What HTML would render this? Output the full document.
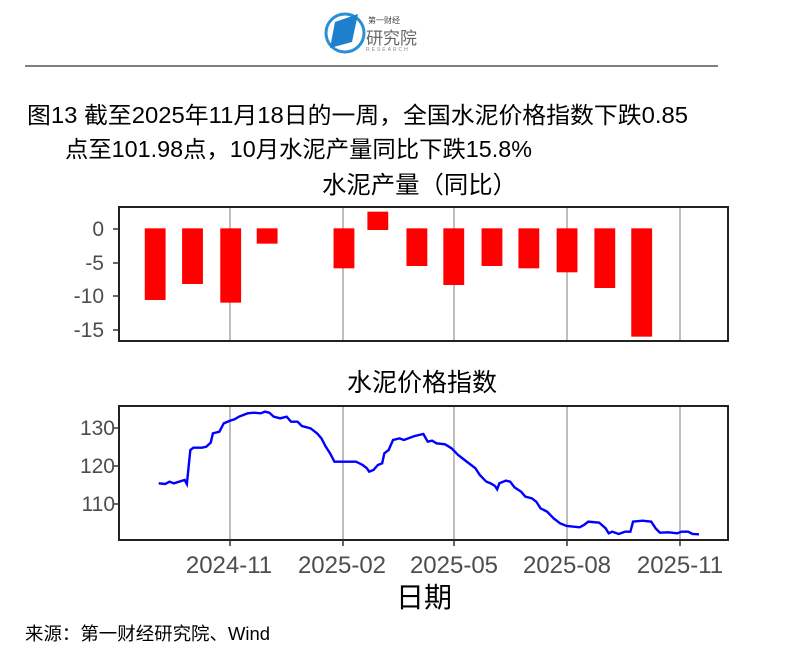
<!DOCTYPE html>
<html><head><meta charset="utf-8"><style>
body{margin:0;width:796px;height:665px;background:#fff;overflow:hidden;font-family:"Liberation Sans","Noto Sans CJK SC",sans-serif;}
</style></head><body>
<svg width="796" height="665" style="position:absolute;left:0;top:0" font-family="Liberation Sans, Noto Sans CJK SC, sans-serif">
<!-- logo -->
<circle cx="345" cy="33" r="19" fill="none" stroke="#2a8fd6" stroke-width="3"/>
<polygon points="335,22 358,14 352,42 330,48" fill="#1f7fcf"/>
<text x="368" y="23" font-size="8" fill="#444">第一财经</text>
<text x="366" y="44" font-size="17" fill="#666">研究院</text>
<text x="366" y="51" font-size="5" fill="#888" letter-spacing="2">RESEARCH</text>
<line x1="25" y1="66" x2="718" y2="66" stroke="#000" stroke-width="1"/>
<text x="27" y="123" font-size="23" textLength="661" lengthAdjust="spacingAndGlyphs">图13  截至2025年11月18日的一周，全国水泥价格指数下跌0.85</text>
<text x="65" y="157" font-size="23" textLength="467" lengthAdjust="spacingAndGlyphs">点至101.98点，10月水泥产量同比下跌15.8%</text>
<text x="322" y="193" font-size="24" textLength="195" lengthAdjust="spacingAndGlyphs">水泥产量（同比）</text>
<text x="347" y="391" font-size="25" textLength="150" lengthAdjust="spacingAndGlyphs">水泥价格指数</text>
<!-- top panel -->
<g stroke="#bebebe" stroke-width="2">
<line x1="230" y1="207" x2="230" y2="341"/><line x1="343" y1="207" x2="343" y2="341"/><line x1="454" y1="207" x2="454" y2="341"/><line x1="567" y1="207" x2="567" y2="341"/><line x1="680" y1="207" x2="680" y2="341"/>
</g>
<g fill="#ff0000" transform="translate(61,200) scale(0.434,0.3333)">
<rect x="193" y="85" width="48" height="215"/>
<rect x="279" y="85" width="48" height="167"/>
<rect x="367" y="85" width="48" height="223"/>
<rect x="451" y="85" width="48" height="46"/>
<rect x="628" y="85" width="48" height="120"/>
<rect x="706" y="35" width="48" height="55"/>
<rect x="796" y="85" width="48" height="113"/>
<rect x="881" y="85" width="48" height="170"/>
<rect x="969" y="85" width="48" height="113"/>
<rect x="1054" y="85" width="48" height="120"/>
<rect x="1142" y="85" width="48" height="132"/>
<rect x="1229" y="85" width="48" height="179"/>
<rect x="1314" y="85" width="48" height="325"/>
</g>
<rect x="119" y="207" width="609" height="134" fill="none" stroke="#222" stroke-width="2"/>
<g stroke="#333" stroke-width="1.5"><line x1="113" y1="229" x2="119" y2="229"/><line x1="113" y1="263" x2="119" y2="263"/><line x1="113" y1="296" x2="119" y2="296"/><line x1="113" y1="330" x2="119" y2="330"/></g>
<g font-size="21" fill="#4d4d4d" text-anchor="end"><text x="104" y="236">0</text><text x="104" y="270">-5</text><text x="104" y="303">-10</text><text x="104" y="337">-15</text></g>
<!-- bottom panel -->
<g stroke="#bebebe" stroke-width="2">
<line x1="230" y1="406" x2="230" y2="540"/><line x1="343" y1="406" x2="343" y2="540"/><line x1="454" y1="406" x2="454" y2="540"/><line x1="567" y1="406" x2="567" y2="540"/><line x1="680" y1="406" x2="680" y2="540"/>
</g>
<g transform="translate(61,400) scale(0.434,0.3333)">
<polyline fill="none" stroke="#0000ff" stroke-width="2.4" vector-effect="non-scaling-stroke" points="225,250 240,252 250,245 260,250 285,240 290,252 298,150 305,143 325,143 335,140 345,128 350,100 365,95 375,70 390,62 400,58 410,50 420,45 430,40 445,38 460,40 470,35 480,38 490,50 505,55 520,50 530,65 545,65 555,78 575,85 590,100 600,115 610,140 620,160 630,185 680,185 695,195 705,205 710,215 720,210 730,195 740,190 745,160 755,150 765,120 780,115 790,120 800,115 815,108 825,105 835,102 845,125 855,122 865,130 885,133 900,145 915,165 930,180 945,195 955,205 965,225 980,245 990,250 1000,258 1005,268 1010,250 1025,242 1035,245 1045,262 1060,275 1070,290 1085,295 1095,305 1105,325 1120,335 1135,355 1150,370 1165,378 1195,382 1205,375 1215,365 1240,368 1255,385 1262,400 1270,395 1285,402 1300,395 1312,395 1318,365 1340,362 1360,365 1370,385 1380,398 1400,397 1420,400 1430,395 1445,395 1455,402 1470,403"/>
</g>
<rect x="119" y="406" width="609" height="134" fill="none" stroke="#222" stroke-width="2"/>
<g stroke="#333" stroke-width="1.5"><line x1="113" y1="428" x2="119" y2="428"/><line x1="113" y1="466" x2="119" y2="466"/><line x1="113" y1="504" x2="119" y2="504"/>
<line x1="230" y1="540" x2="230" y2="546"/><line x1="343" y1="540" x2="343" y2="546"/><line x1="454" y1="540" x2="454" y2="546"/><line x1="567" y1="540" x2="567" y2="546"/><line x1="680" y1="540" x2="680" y2="546"/></g>
<g font-size="21" fill="#4d4d4d" text-anchor="end"><text x="115" y="435">130</text><text x="115" y="473">120</text><text x="115" y="511">110</text></g>
<g font-size="24" fill="#4d4d4d" text-anchor="middle"><text x="229" y="573">2024-11</text><text x="342" y="573">2025-02</text><text x="454" y="573">2025-05</text><text x="567" y="573">2025-08</text><text x="680" y="573">2025-11</text></g>
<text x="396" y="607" font-size="28" textLength="56" lengthAdjust="spacingAndGlyphs">日期</text>
<text x="25" y="640" font-size="18" textLength="245" lengthAdjust="spacingAndGlyphs">来源：第一财经研究院、Wind</text>
</svg>
</body></html>
